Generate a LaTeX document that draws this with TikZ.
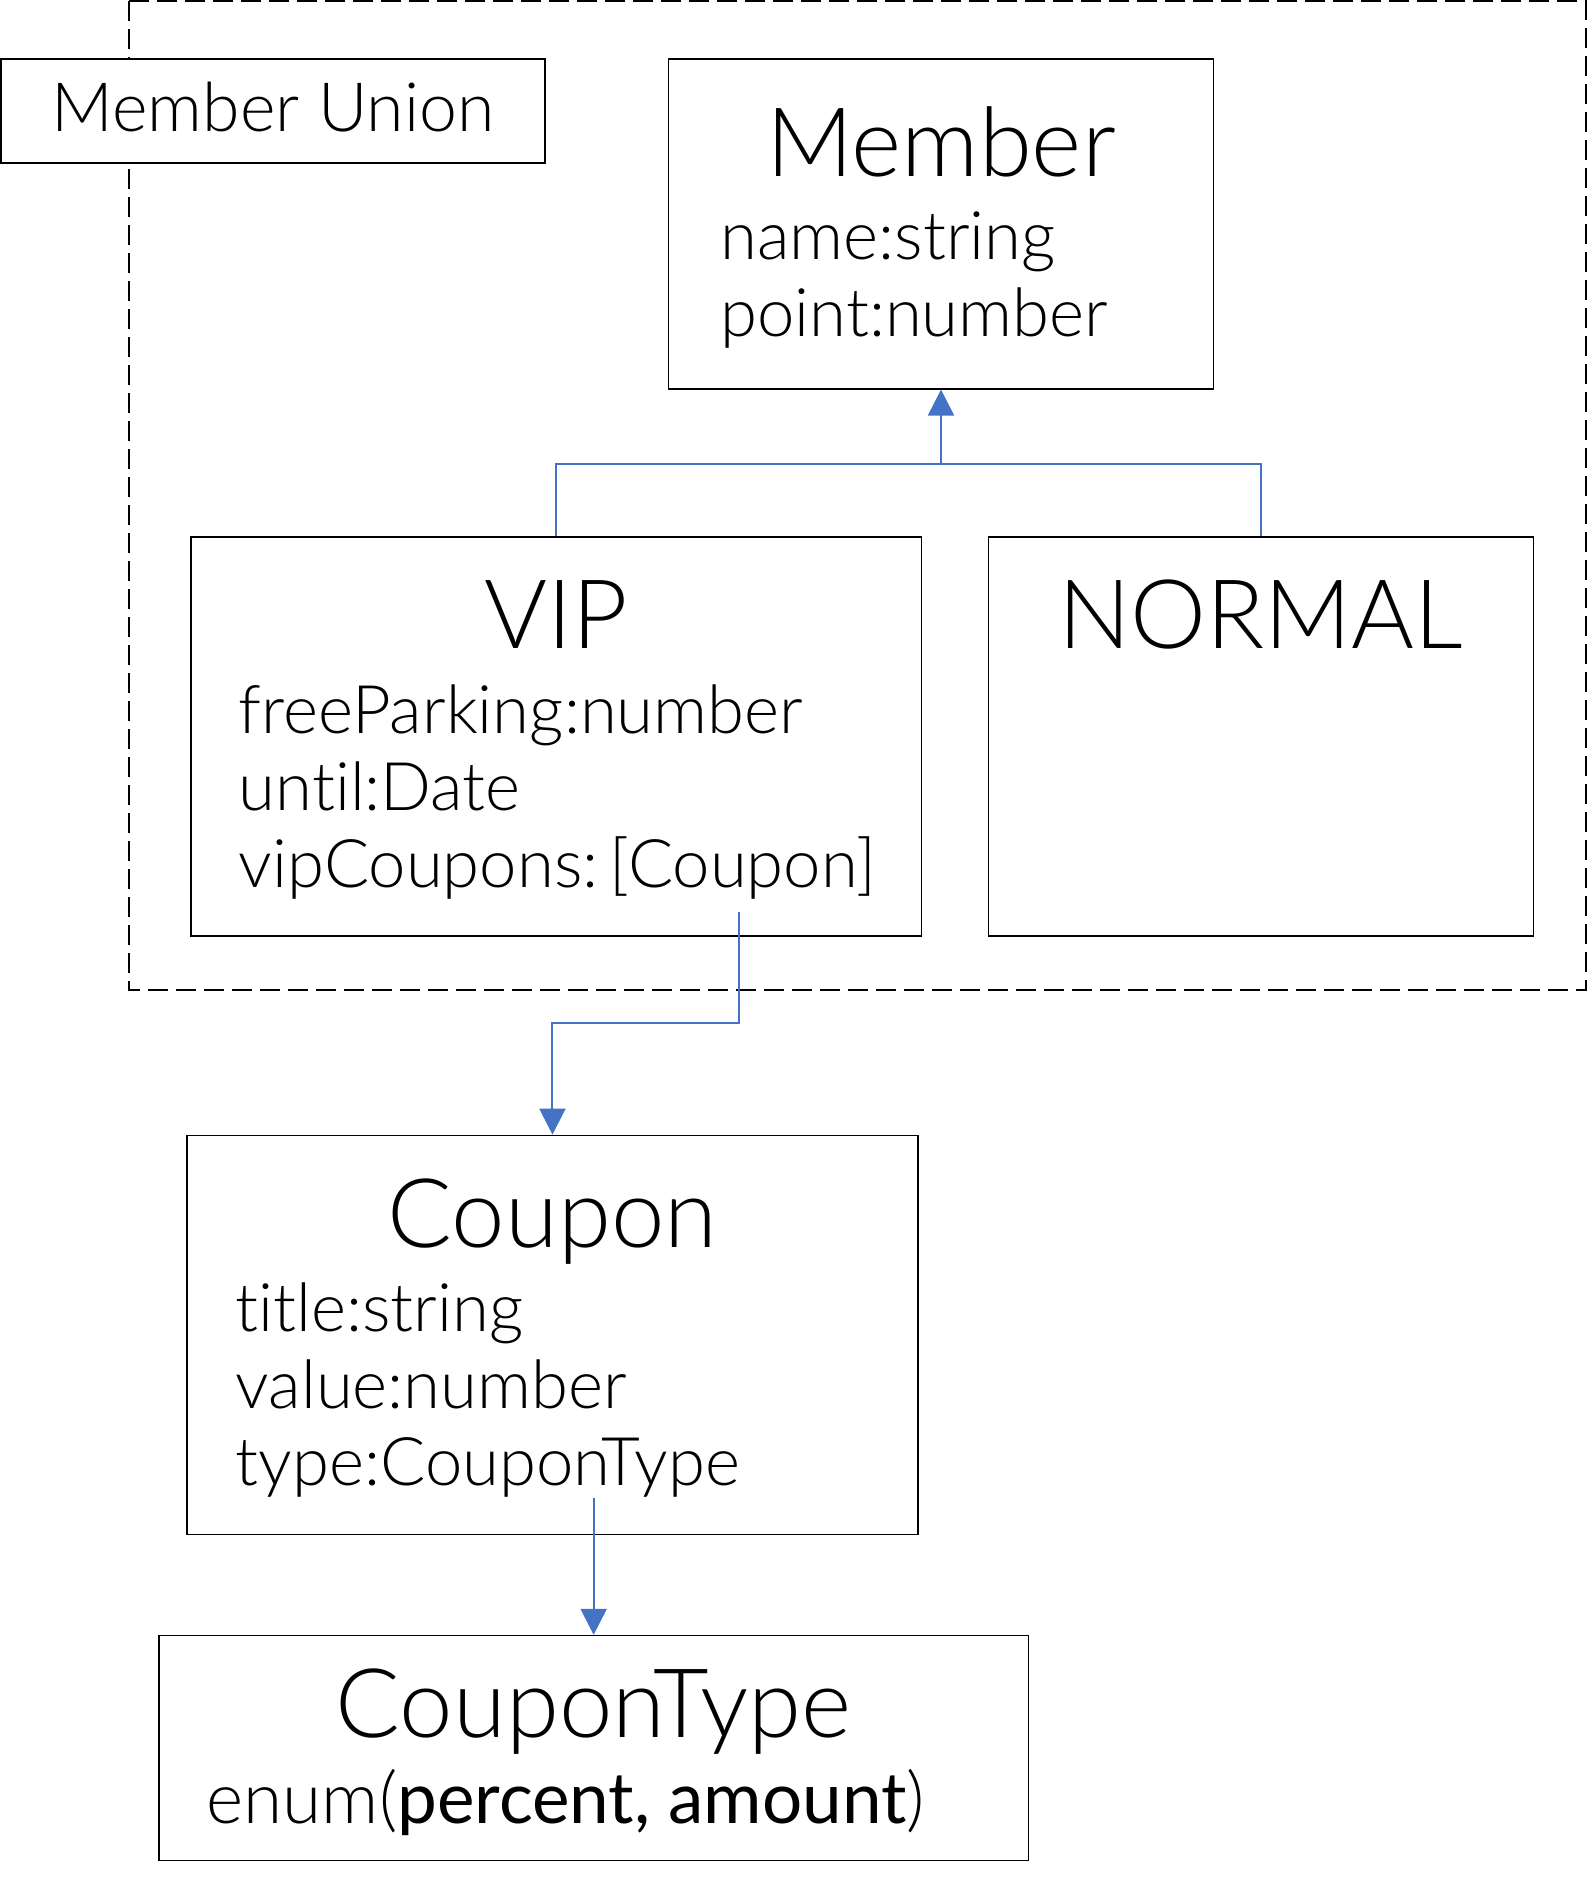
\documentclass[tikz,border=0pt]{standalone}
\usepackage{fontspec}
\setmainfont{Lato Light}[BoldFont={Lato Regular},Ligatures={NoCommon}]
\usetikzlibrary{arrows.meta,positioning}
\definecolor{linkblue}{RGB}{68,114,196}

\begin{document}
\begin{tikzpicture}[x=0.5pt,y=-0.5pt,>={Triangle[length=13pt,width=13pt]},
	box/.style={draw,line width=0.6pt,inner sep=0pt,fill=white},
	title/.style={anchor=base,inner sep=0pt,font=\fontsize{48}{55}\selectfont},
	fields/.style={anchor=base west,inner sep=0pt,font=\fontsize{33.5}{38.5}\selectfont},
	link/.style={draw=linkblue,line width=1pt}]

\useasboundingbox (0,0) rectangle (1588,1878);

% union frame
\draw[line width=1pt,dash pattern=on 10pt off 4pt] (129,1) rectangle (1586,990);
\node[box,minimum width=272pt,minimum height=52pt,text height=20.5pt,text depth=0pt,
	font=\fontsize{34}{40}\selectfont] (union) at (273,111) {Member Union};

\node[box,minimum width=272.5pt,minimum height=165pt] (member) at (941,224) {};
\node[title] (membertitle) at ([yshift=-59pt]member.north) {Member};
\node[fields] (memberfields) at ([xshift=26pt,yshift=-100.5pt]member.north west)
	{\begin{tabular}[t]{@{}l@{}}name:string\\point:number\end{tabular}};

\node[box,minimum width=365.25pt,minimum height=199.5pt] (vip) at (556.25,736.5) {};
\node[title] (viptitle) at ([yshift=-56pt]vip.north) {VIP};
\node[fields] (vipfields) at ([xshift=24pt,yshift=-98.5pt]vip.north west)
	{\begin{tabular}[t]{@{}l@{}}freeParking:number\\until:Date\\vipCoupons:\,[Coupon]\end{tabular}};

\node[box,minimum width=272.5pt,minimum height=199.5pt,right=32.75pt of vip] (normal) {};
\node[title] (normaltitle) at ([yshift=-56pt]normal.north) {NORMAL};

\node[box,minimum width=365.5pt,minimum height=199.5pt,below=99pt of vip,xshift=-1.9pt] (coupon) {};
\node[title] (coupontitle) at ([yshift=-56.5pt]coupon.north) {Coupon};
\node[fields] (couponfields) at ([xshift=24.5pt,yshift=-98.5pt]coupon.north west)
	{\begin{tabular}[t]{@{}l@{}}title:string\\value:number\\type:CouponType\end{tabular}};

\node[box,minimum width=434.75pt,minimum height=112.5pt,below=50pt of coupon,xshift=20.6pt] (coupontype) {};
\node[title] (coupontypetitle) at ([yshift=-51.5pt]coupontype.north) {CouponType};
\node[fields,font=\fontsize{35.5}{42}\selectfont] (couponenum) at ([xshift=24pt,yshift=-94.5pt]coupontype.north west)
	{enum(\textbf{percent, amount})};

% connectors
\coordinate (join) at ([yshift=-37pt]member.south);
\draw[link] (vip.north) |- (join) -| (normal.north);
\draw[link,->] (join) -- (member.south);

\coordinate (vipout) at ([xshift=274.5pt,yshift=12.5pt]vip.south west);
\draw[link,->] (vipout) |- ([yshift=56pt]coupon.north) -- (coupon.north);

\coordinate (couponout) at ([yshift=18.5pt]coupon.south -| coupontype.north);
\draw[link,->] (couponout) -- (coupontype.north);

\end{tikzpicture}
\end{document}
